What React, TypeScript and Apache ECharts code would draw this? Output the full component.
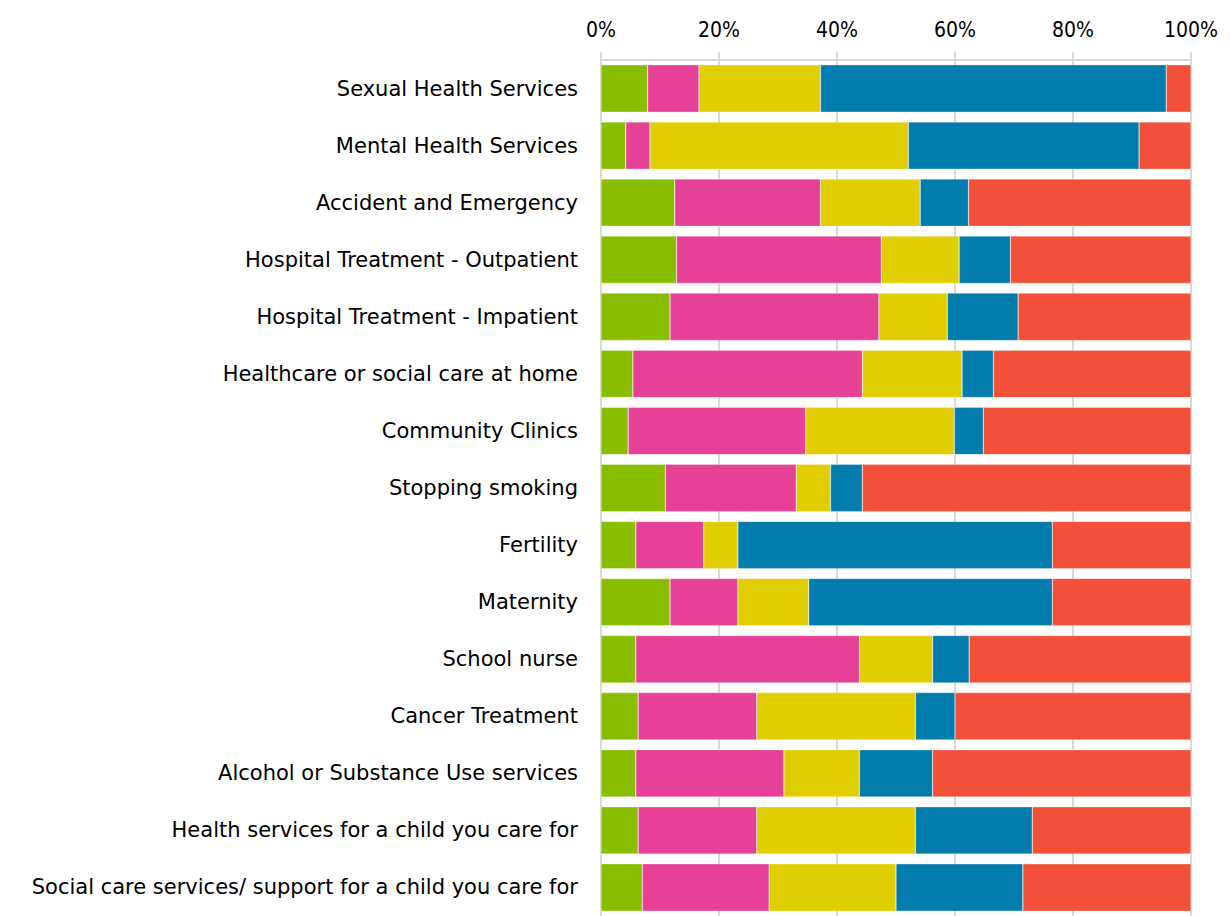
import React, { useEffect, useRef } from "react";
import * as echarts from "echarts";

const categories = [
  "Sexual Health Services",
  "Mental Health Services",
  "Accident and Emergency",
  "Hospital Treatment - Outpatient",
  "Hospital Treatment - Impatient",
  "Healthcare or social care at home",
  "Community Clinics",
  "Stopping smoking",
  "Fertility",
  "Maternity",
  "School nurse",
  "Cancer Treatment",
  "Alcohol or Substance Use services",
  "Health services for a child you care for",
  "Social care services/ support for a child you care for",
];

const tickLabels = ["0%", "20%", "40%", "60%", "80%", "100%"];

const greenValues = [7.9, 4.2, 12.5, 12.8, 11.7, 5.4, 4.6, 10.9, 5.9, 11.7, 5.9, 6.3, 5.9, 6.3, 7.0];
const pinkValues = [8.7, 4.1, 24.7, 34.7, 35.4, 38.9, 30.1, 22.2, 11.5, 11.5, 37.9, 20.1, 25.1, 20.1, 21.5];
const yellowValues = [20.6, 43.8, 16.9, 13.2, 11.6, 16.9, 25.2, 5.8, 5.8, 12.0, 12.4, 26.9, 12.8, 26.9, 21.5];
const blueValues = [58.6, 39.1, 8.2, 8.7, 12.0, 5.3, 4.9, 5.4, 53.3, 41.3, 6.2, 6.7, 12.4, 19.8, 21.5];
const redValues = [4.2, 8.8, 37.7, 30.6, 29.3, 33.5, 35.2, 55.7, 23.5, 23.5, 37.6, 40.0, 43.8, 26.9, 28.5];

const seriesDefs = [
  { name: "Group 1", data: greenValues, color: "#89BE00" },
  { name: "Group 2", data: pinkValues, color: "#E74097" },
  { name: "Group 3", data: yellowValues, color: "#E0CE00" },
  { name: "Group 4", data: blueValues, color: "#027BAD" },
  { name: "Group 5", data: redValues, color: "#F35039" },
];

const TICK_FONT = "'DejaVu Sans Condensed', 'DejaVu Sans', sans-serif";
const CAT_FONT = "'DejaVu Sans', sans-serif";

export default function App() {
  const ref = useRef<HTMLDivElement>(null);

  useEffect(() => {
    if (!ref.current) return;
    const chart = echarts.init(ref.current, undefined, { renderer: "svg" });
    chart.setOption({
      animation: false,
      backgroundColor: "#ffffff",
      grid: { left: 601, top: 60, width: 590, height: 864, containLabel: false },
      xAxis: {
        type: "value",
        position: "top",
        min: 0,
        max: 100,
        interval: 20,
        axisLine: { show: true, lineStyle: { color: "#d9d9d9", width: 2 } },
        axisTick: { show: true, length: 8, lineStyle: { color: "#d9d9d9", width: 2 } },
        splitLine: { show: true, lineStyle: { color: "#d9d9d9", width: 2 } },
        axisLabel: {
          margin: 20,
          color: "#000000",
          fontSize: 21,
          fontFamily: TICK_FONT,
          formatter: (v: number) => tickLabels[Math.round(v / 20)],
        },
      },
      yAxis: {
        type: "category",
        inverse: true,
        data: categories,
        axisLine: { show: false },
        axisTick: { show: false },
        axisLabel: {
          margin: 23,
          color: "#000000",
          fontSize: 21,
          fontFamily: CAT_FONT,
        },
      },
      series: seriesDefs.map((s) => ({
        name: s.name,
        type: "bar",
        stack: "total",
        barCategoryGap: "17%",
        data: s.data,
        itemStyle: { color: s.color, borderColor: "rgba(255,255,255,0.6)", borderWidth: 0.5 },
      })),
    });
    return () => chart.dispose();
  }, []);

  return (
    <div
      ref={ref}
      style={{ position: "fixed", left: 0, top: 0, width: 1230, height: 916, background: "#fff" }}
    />
  );
}
